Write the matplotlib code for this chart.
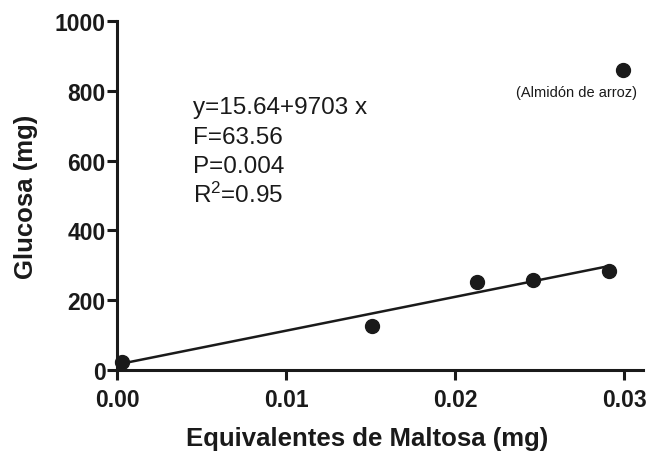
import matplotlib.pyplot as plt
import numpy as np

# valores
maltosa = [0.0003, 0.0151, 0.0213, 0.0246, 0.0291, 0.0299]
glucosa = [22, 125, 253, 257, 283, 860]
intercepto = 15.64
pendiente = 9703
x_ticks = [0.00, 0.01, 0.02, 0.03]
y_ticks = [0, 200, 400, 600, 800, 1000]
stats = ["y=15.64+9703 x", "F=63.56", "P=0.004", "R$^{2}$=0.95"]

plt.rcParams['font.family'] = ['Liberation Sans', 'DejaVu Sans']
plt.rcParams['mathtext.default'] = 'regular'

fig = plt.figure(figsize=(6.51, 4.52), dpi=100)
ax = fig.add_axes([0.1797, 0.1792, 0.808, 0.772])

ax.plot(maltosa, glucosa, 'o', color='#1a1a1a', markersize=10, clip_on=False, zorder=3)

x_fit = np.array([0, maltosa[4]])
ax.plot(x_fit, intercepto + pendiente * x_fit, color='#1a1a1a', lw=1.8, clip_on=False)

ax.set_xlim(0, 0.0311)
ax.set_ylim(0, 1000)
ax.set_xticks(x_ticks)
ax.set_xticklabels([f"{t:.2f}" for t in x_ticks])
ax.set_yticks(y_ticks)

for s in ['top', 'right']:
    ax.spines[s].set_visible(False)
for s in ['left', 'bottom']:
    ax.spines[s].set_linewidth(2.2)
    ax.spines[s].set_color('#1a1a1a')
ax.tick_params(width=2.2, length=7, color='#1a1a1a', labelsize=16.5)
ax.tick_params(axis='y', pad=1)
ax.tick_params(axis='x', pad=6)
for lab in ax.get_xticklabels() + ax.get_yticklabels():
    lab.set_fontweight('bold')
    lab.set_color('#1a1a1a')

ax.set_xlabel("Equivalentes de Maltosa (mg)", fontsize=18.5, fontweight='bold', color='#1a1a1a', labelpad=7)
ax.set_ylabel("Glucosa (mg)", fontsize=18.5, fontweight='bold', color='#1a1a1a', labelpad=12)
ax.xaxis.set_label_coords(0.475, -0.16)

# bloque de estadisticos, una linea por texto
for i, s in enumerate(stats):
    ax.text(0.0045, 736 - 85 * i, s, fontsize=17.5, va='baseline', ha='left', color='#1a1a1a')
ax.text(0.02716, 796, "(Almidón de arroz)", fontsize=10.5, ha='center', va='center', color='#1a1a1a')

fig.savefig("out.png", dpi=100)
